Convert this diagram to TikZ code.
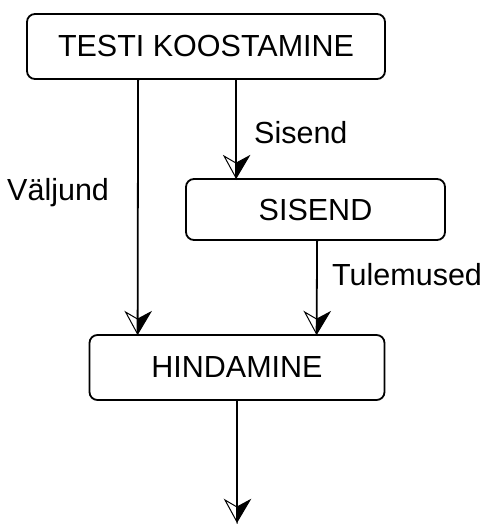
\documentclass[tikz,border=0pt]{standalone}
\usepackage{fontspec}
\setmainfont{Liberation Sans}
\usetikzlibrary{arrows.meta}

% Arrow tip: right half filled, left half drawn as an outline
\pgfdeclarearrow{
  name=HalfStealth,
  setup code={
    \pgfarrowssettipend{0pt}
    \pgfarrowssetlineend{-1pt}
    \pgfarrowsupperhullpoint{-22pt}{13pt}
    \pgfarrowsupperhullpoint{0pt}{0pt}
  },
  drawing code={
    \pgfsetlinewidth{1pt}
    \pgfsetmiterjoin
    % outlined half
    \pgfpathmoveto{\pgfpoint{0pt}{0pt}}
    \pgfpathlineto{\pgfpoint{-22pt}{-12pt}}
    \pgfpathlineto{\pgfpoint{-15pt}{0pt}}
    \pgfpathclose
    \pgfusepathqstroke
    % filled half
    \pgfpathmoveto{\pgfpoint{0pt}{0pt}}
    \pgfpathlineto{\pgfpoint{-22pt}{13pt}}
    \pgfpathlineto{\pgfpoint{-15pt}{0pt}}
    \pgfpathclose
    \pgfusepathqfillstroke
  }
}

\tikzset{
  box/.style={draw, line width=1.8pt, rounded corners=8pt, inner sep=0pt,
    font=\fontsize{30.5}{36}\selectfont},
  flow/.style={line width=1.8pt, -{HalfStealth}},
  lbl/.style={anchor=west, inner sep=0pt, font=\fontsize{30.5}{36}\selectfont}
}

\begin{document}
\begin{tikzpicture}[x=1pt, y=-1pt]
  \useasboundingbox (0,0) rectangle (494,524);

  % process boxes
  \node[box, minimum width=358pt, minimum height=65pt] (t) at (206,46.5) {TESTI KOOSTAMINE};
  \node[box, minimum width=259pt, minimum height=61pt] (s) at (315.5,209.5) {SISEND};
  \node[box, minimum width=295pt, minimum height=65pt] (h) at (237,367.5) {HINDAMINE};
  \coordinate (out) at (237,522);

  % connectors
  \draw[flow] ([xshift=112pt]t.south west) -- ([xshift=49pt]h.north west);
  \draw[flow] ([xshift=210pt]t.south west) -- ([xshift=51pt]s.north west);
  \draw[flow] ([xshift=132pt]s.south west) -- ([xshift=228pt]h.north west);
  \draw[flow] (h.south) -- (h.south |- out);

  % connector labels
  \node[lbl] (l1) at (254,133) {Sisend};
  \node[lbl] (l2) at (7,193) {Väljund};
  \node[lbl] (l3) at (332,275) {Tulemused};
\end{tikzpicture}
\end{document}
